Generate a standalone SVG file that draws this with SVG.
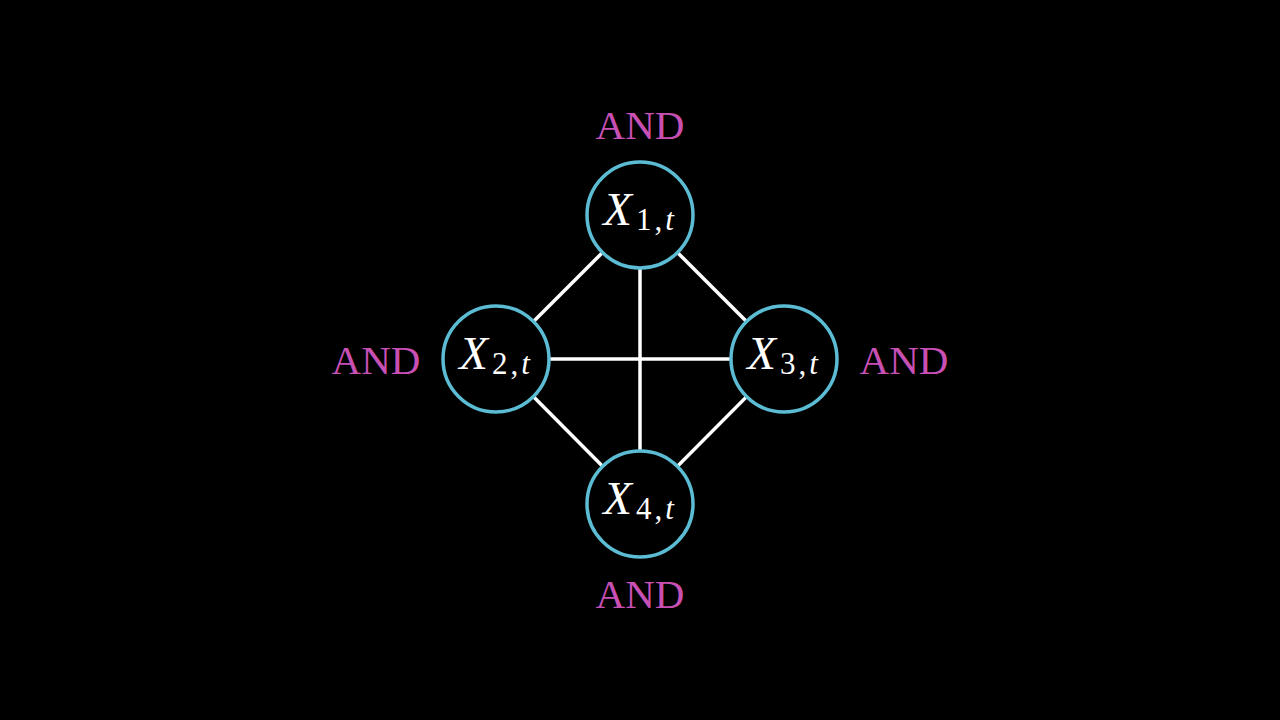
<svg xmlns="http://www.w3.org/2000/svg" width="1280" height="720" viewBox="0 0 1280 720">
<style>
.node{fill:#000;stroke:#5bbcd3;stroke-width:3.5}
.edge{stroke:#fff;stroke-width:3.5;fill:none}
.and{font-family:"Liberation Serif",serif;font-size:41px;fill:#c850b4;text-anchor:middle}
.lbl{font-family:"Liberation Serif",serif;fill:#fff;text-anchor:middle}
.x{font-style:italic;font-size:47px}
.sub{font-size:31px;letter-spacing:3px}
.it{font-style:italic}
</style>
<rect width="1280" height="720" fill="#000"/>
<g id="connectors">
<line class="edge" x1="640" y1="215" x2="640" y2="504"/>
<line class="edge" x1="496" y1="359" x2="784" y2="359"/>
<line class="edge" x1="640" y1="215" x2="496" y2="359"/>
<line class="edge" x1="640" y1="215" x2="784" y2="359"/>
<line class="edge" x1="496" y1="359" x2="640" y2="504"/>
<line class="edge" x1="784" y1="359" x2="640" y2="504"/>
</g>
<g id="n1">
<circle class="node" cx="640" cy="215" r="53"/>
<text class="lbl" x="640" y="225"><tspan class="x">X</tspan><tspan class="sub" dx="4" dy="5">1,<tspan class="it">t</tspan></tspan></text>
<text class="and" x="640" y="139">AND</text>
</g>
<g id="n2">
<circle class="node" cx="496" cy="359" r="53"/>
<text class="lbl" x="496" y="369"><tspan class="x">X</tspan><tspan class="sub" dx="4" dy="5">2,<tspan class="it">t</tspan></tspan></text>
<text class="and" x="376" y="374">AND</text>
</g>
<g id="n3">
<circle class="node" cx="784" cy="359" r="53"/>
<text class="lbl" x="784" y="369"><tspan class="x">X</tspan><tspan class="sub" dx="4" dy="5">3,<tspan class="it">t</tspan></tspan></text>
<text class="and" x="904" y="374">AND</text>
</g>
<g id="n4">
<circle class="node" cx="640" cy="504" r="53"/>
<text class="lbl" x="640" y="514"><tspan class="x">X</tspan><tspan class="sub" dx="4" dy="5">4,<tspan class="it">t</tspan></tspan></text>
<text class="and" x="640" y="608">AND</text>
</g>
</svg>
